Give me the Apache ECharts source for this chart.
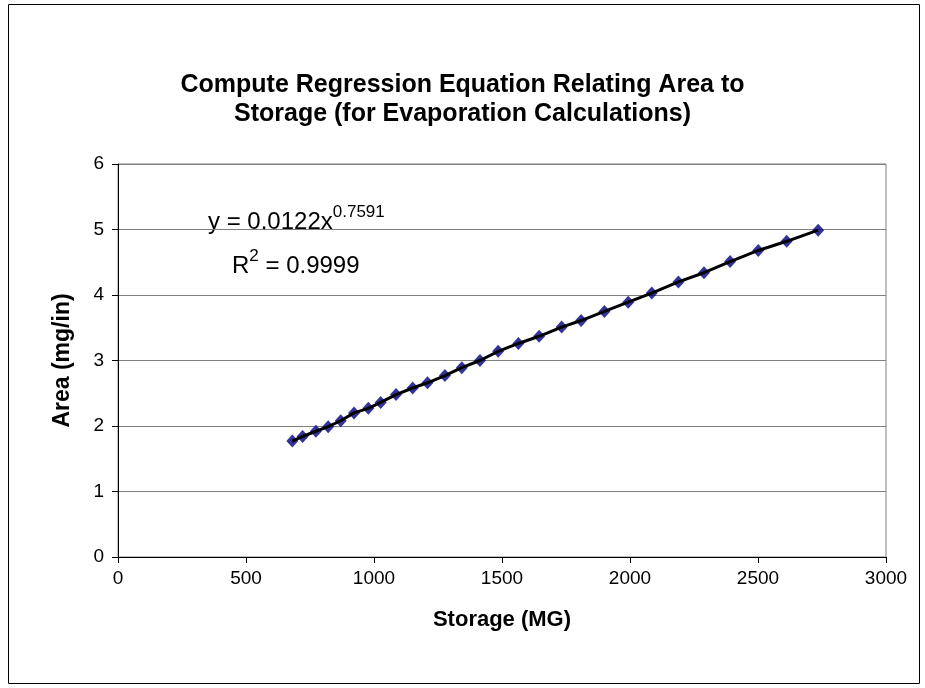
<!DOCTYPE html>
<html>
<head>
<meta charset="utf-8">
<script src="https://cdn.jsdelivr.net/npm/echarts@6/dist/echarts.min.js"></script>
<style>
html,body{margin:0;padding:0;background:#fff;}
#chart{width:925px;height:688px;}
</style>
</head>
<body>
<div id="chart"></div>
<script>
// Data
var storage = [681, 721, 773, 821, 870, 922, 978, 1026, 1086, 1151, 1209, 1277, 1343, 1414,
               1485, 1564, 1645, 1733, 1809, 1900, 1993, 2085, 2189, 2289, 2391, 2501, 2612, 2735];
var area    = [1.77, 1.84, 1.92, 1.99, 2.08, 2.20, 2.27, 2.36, 2.48, 2.58, 2.66, 2.77, 2.89, 3.00,
               3.14, 3.26, 3.37, 3.51, 3.61, 3.75, 3.89, 4.03, 4.20, 4.34, 4.51, 4.68, 4.82, 4.99];
var xTicks = [0, 500, 1000, 1500, 2000, 2500, 3000];
var yTicks = [0, 1, 2, 3, 4, 5, 6];
var titleLines = ['Compute Regression Equation Relating Area to', 'Storage (for Evaporation Calculations)'];
var xTitle = 'Storage (MG)';
var yTitle = 'Area (mg/in)';
var eqMain = 'y = 0.0122x';
var eqExp = '0.7591';
var r2Main = 'R';
var r2Exp = '2';
var r2Val = ' = 0.9999';

var pts = storage.map(function (s, i) { return [s, area[i]]; });
var FONT = 'Liberation Sans, Arial, sans-serif';

var chart = echarts.init(document.getElementById('chart'), null, {renderer: 'canvas'});
chart.setOption({
  backgroundColor: '#fff',
  animation: false,
  title: {
    text: titleLines.join('\n'),
    left: 'center',
    top: 66,
    textStyle: {fontFamily: FONT, fontWeight: 'bold', fontSize: 25, lineHeight: 29, color: '#000'}
  },
  grid: {left: 118, top: 164, width: 768, height: 393, show: true, borderColor: '#808080', borderWidth: 1, backgroundColor: 'transparent'},
  xAxis: {
    type: 'value', min: xTicks[0], max: xTicks[xTicks.length - 1], interval: xTicks[1] - xTicks[0],
    name: xTitle, nameLocation: 'middle', nameGap: 52,
    nameTextStyle: {fontFamily: FONT, fontWeight: 'bold', fontSize: 22, color: '#000'},
    axisLine: {lineStyle: {color: '#000', width: 1}},
    axisTick: {show: true, inside: false, length: 6, lineStyle: {color: '#000'}},
    axisLabel: {fontFamily: FONT, fontSize: 19, color: '#000', margin: 12, formatter: function (v) { return String(v); }},
    splitLine: {show: false}
  },
  yAxis: {
    type: 'value', min: yTicks[0], max: yTicks[yTicks.length - 1], interval: yTicks[1] - yTicks[0],
    name: yTitle, nameLocation: 'middle', nameGap: 44,
    nameTextStyle: {fontFamily: FONT, fontWeight: 'bold', fontSize: 23, color: '#000'},
    axisLine: {show: true, lineStyle: {color: '#000', width: 1}},
    axisTick: {show: true, inside: false, length: 6, lineStyle: {color: '#000'}},
    axisLabel: {fontFamily: FONT, fontSize: 19, color: '#000', margin: 14},
    splitLine: {show: true, lineStyle: {color: '#808080', width: 1}}
  },
  graphic: [
    {type: 'rect', shape: {x: 8.5, y: 4.5, width: 911, height: 679}, style: {fill: 'none', stroke: '#000', lineWidth: 1}, silent: true, z: -10},
    {type: 'text', left: 208, top: 204, style: {
      text: '{m|' + eqMain + '}{s|' + eqExp + '}',
      rich: {
        m: {fontFamily: FONT, fontSize: 24, fill: '#000', verticalAlign: 'bottom', lineHeight: 30},
        s: {fontFamily: FONT, fontSize: 17, fill: '#000', verticalAlign: 'top', lineHeight: 30, padding: [0, 0, 13, 0]}
      }
    }},
    {type: 'text', left: 232, top: 248, style: {
      text: '{m|' + r2Main + '}{s|' + r2Exp + '}{m|' + r2Val + '}',
      rich: {
        m: {fontFamily: FONT, fontSize: 24, fill: '#000', verticalAlign: 'bottom', lineHeight: 30},
        s: {fontFamily: FONT, fontSize: 17, fill: '#000', verticalAlign: 'top', lineHeight: 30, padding: [0, 0, 13, 0]}
      }
    }}
  ],
  series: [
    {
      type: 'line', data: pts, showSymbol: false, symbol: 'none',
      lineStyle: {color: '#000', width: 3}, z: 3
    },
    {
      type: 'scatter', data: pts, symbol: 'diamond', symbolSize: [12, 13],
      itemStyle: {color: '#000080'}, z: 2
    }
  ]
});
</script>
</body>
</html>
